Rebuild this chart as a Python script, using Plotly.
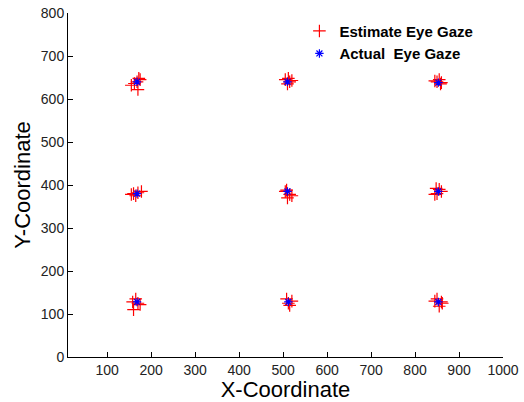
import plotly.graph_objects as go

est_x = [155, 172, 170, 168, 175, 162,
         505, 515, 520, 510, 512,
         850, 858, 845, 855, 860,
         155, 170, 178, 165, 160,
         505, 515, 520, 510, 508,
         845, 855, 860, 850, 848,
         160, 165, 170, 175, 158,
         508, 515, 520, 512,
         845, 855, 860, 850, 862]
est_y = [632, 648, 622, 640, 645, 636,
         645, 640, 643, 635, 648,
         640, 635, 642, 645, 638,
         378, 382, 385, 375, 380,
         385, 378, 375, 370, 388,
         378, 390, 385, 380, 392,
         110, 135, 125, 122, 128,
         135, 120, 130, 125,
         130, 118, 128, 135, 125]
act_x = [168, 510, 853, 168, 510, 853, 168, 512, 853]
act_y = [640, 640, 638, 380, 385, 385, 128, 128, 128]
x_ticks = [100, 200, 300, 400, 500, 600, 700, 800, 900, 1000]
y_ticks = [0, 100, 200, 300, 400, 500, 600, 700, 800]

FONT = "Liberation Sans, Arial"

fig = go.Figure()
fig.add_trace(go.Scatter(x=est_x, y=est_y, mode="markers", name="Estimate Eye Gaze",
                         marker=dict(symbol="cross-thin-open", size=9, color="red",
                                     line=dict(color="red", width=1.2))))
fig.add_trace(go.Scatter(x=act_x, y=act_y, mode="markers", name="Actual  Eye Gaze",
                         marker=dict(symbol="asterisk-open", size=7, color="blue",
                                     line=dict(color="blue", width=1.2))))

axis_common = dict(showgrid=False, zeroline=False, showline=True, linecolor="black",
                   linewidth=1, ticks="inside", ticklen=5, tickcolor="black",
                   automargin=False,
                   tickfont=dict(family=FONT, size=14, color="#222"))
fig.update_xaxes(range=[11, 1000], tickvals=x_ticks, ticktext=[str(v) for v in x_ticks],
                 title=dict(text="X-Coordinate", font=dict(family=FONT, size=22, color="black"), standoff=0),
                 **axis_common)
fig.update_yaxes(range=[0, 800], tickvals=y_ticks, ticktext=[str(v) for v in y_ticks],
                 title=dict(text="Y-Coordinate", font=dict(family=FONT, size=22, color="black"), standoff=4),
                 **axis_common)
fig.update_layout(width=524, height=402, plot_bgcolor="white", paper_bgcolor="white",
                  margin=dict(l=68, r=21, t=13, b=45, autoexpand=False),
                  legend=dict(x=0.532, y=0.995, xanchor="left", yanchor="top",
                              bgcolor="rgba(0,0,0,0)",
                              font=dict(family=FONT, size=15, color="black", weight="bold"),
                              itemwidth=30, tracegroupgap=0))
fig.write_html("out.html", config={"displayModeBar": False},
               post_script="document.body.style.margin='0';document.body.style.overflow='hidden';")
